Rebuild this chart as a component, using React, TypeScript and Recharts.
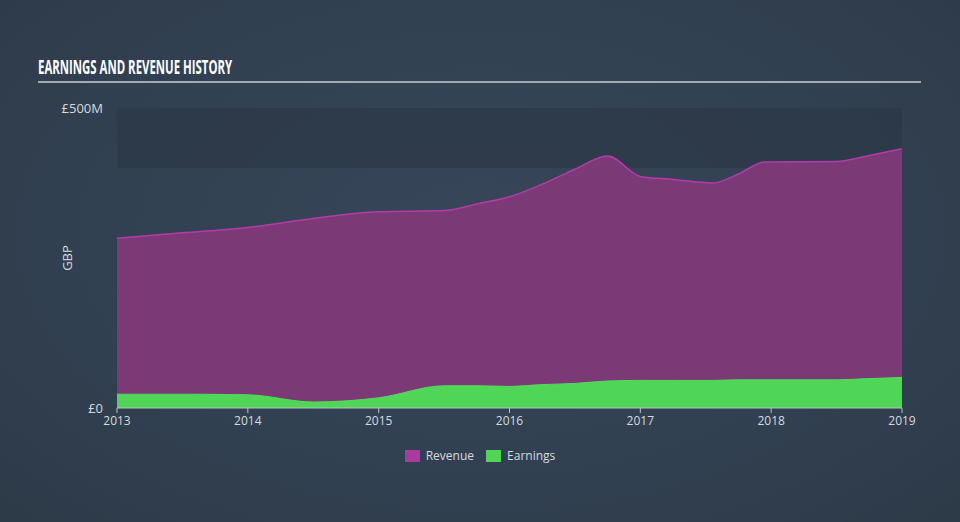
import React from 'react';
import { AreaChart, Area, XAxis, YAxis, ReferenceArea, Label } from 'recharts';

const revenueYears = [2013.0, 2013.5, 2014.0, 2014.5, 2015.0, 2015.5, 2015.75, 2016.0, 2016.25, 2016.5, 2016.75, 2017.0, 2017.25, 2017.55, 2017.75, 2017.95, 2018.5, 2018.75, 2019.0];
const revenueValues = [283, 292, 301, 316, 327, 329, 340, 352, 373, 398, 420, 386, 381, 375, 390, 410, 411, 421, 432];
const earningsValues = [23, 23, 22, 10, 17, 37, 37, 36, 39, 41, 45, 46, 46, 46, 47, 47, 47, 49, 51];

const xTicks = [2013, 2014, 2015, 2016, 2017, 2018, 2019];
const yTicks = [0, 500];
const seriesNames = ['Revenue', 'Earnings'];
const seriesColors = ['#a93b9f', '#50d656'];

const data = revenueYears.map((t, i) => ({ t, revenue: revenueValues[i], earnings: earningsValues[i] }));

const fontFam = "'Open Sans', 'DejaVu Sans', sans-serif";

export default function App() {
  return (
    <div
      style={{
        position: 'absolute',
        left: 0,
        top: 0,
        width: 960,
        height: 522,
        background: 'radial-gradient(ellipse at 50% 45%, #374658 0%, #324152 55%, #2d3a48 100%)',
        fontFamily: fontFam,
        overflow: 'hidden',
      }}
    >
      <div
        style={{
          position: 'absolute',
          left: 38,
          top: 54,
          color: '#ffffff',
          fontFamily: "'Open Sans', sans-serif",
          fontWeight: 700,
          fontSize: 20,
          lineHeight: '26px',
          whiteSpace: 'nowrap',
          transform: 'scaleX(0.57)',
          transformOrigin: 'left top',
        }}
      >
        EARNINGS AND REVENUE HISTORY
      </div>
      <div style={{ position: 'absolute', left: 38, top: 81, width: 883, height: 2, background: '#a3aab2' }} />
      <AreaChart
        width={960}
        height={522}
        data={data}
        margin={{ top: 108, right: 58, bottom: 84, left: 57 }}
        style={{ position: 'absolute', left: 0, top: 0 }}
      >
        <ReferenceArea y1={400} y2={500} fill="#2a3543" fillOpacity={0.55} stroke="none" ifOverflow="hidden" />
        <XAxis
          dataKey="t"
          type="number"
          domain={[2013, 2019]}
          ticks={xTicks}
          allowDataOverflow
          tickSize={5}
          tickMargin={3}
          stroke="#b9c0c7"
          tick={{ fill: '#d5dade', fontSize: 12, fontFamily: fontFam }}
          height={30}
        />
        <YAxis
          type="number"
          domain={[0, 500]}
          ticks={yTicks}
          width={60}
          axisLine={false}
          tickLine={false}
          tickSize={0}
          tickMargin={14}
          tickFormatter={(v: number) => (v === 0 ? '£0' : `£${v}M`)}
          tick={{ fill: '#d5dade', fontSize: 13, fontFamily: fontFam }}
        >
          <Label
            content={(props: any) => {
              const vb = props.viewBox || {};
              const cx = vb.x + 10;
              const cy = vb.y + vb.height / 2;
              return (
                <text
                  x={cx}
                  y={cy}
                  transform={`rotate(-90 ${cx} ${cy})`}
                  textAnchor="middle"
                  dominantBaseline="central"
                  fill="#d5dade"
                  fontSize={13}
                  fontFamily={fontFam}
                >
                  GBP
                </text>
              );
            }}
          />
        </YAxis>
        <Area
          type="monotone"
          dataKey="revenue"
          name={seriesNames[0]}
          stroke="#b53aaa"
          strokeWidth={1.5}
          fill="#7b3a76"
          fillOpacity={1}
          isAnimationActive={false}
          dot={false}
          activeDot={false}
        />
        <Area
          type="monotone"
          dataKey="earnings"
          name={seriesNames[1]}
          stroke="#52dc58"
          strokeWidth={1}
          fill="#50d656"
          fillOpacity={1}
          isAnimationActive={false}
          dot={false}
          activeDot={false}
        />
      </AreaChart>
      <div
        style={{
          position: 'absolute',
          top: 448,
          left: 0,
          width: 960,
          display: 'flex',
          justifyContent: 'center',
          gap: 12,
          color: '#d5dade',
          fontSize: 12,
          lineHeight: '16px',
        }}
      >
        {seriesNames.map((n, i) => (
          <div key={n} style={{ display: 'flex', alignItems: 'center' }}>
            <div style={{ width: 15, height: 12, background: seriesColors[i], marginRight: 6 }} />
            <span>{n}</span>
          </div>
        ))}
      </div>
    </div>
  );
}
